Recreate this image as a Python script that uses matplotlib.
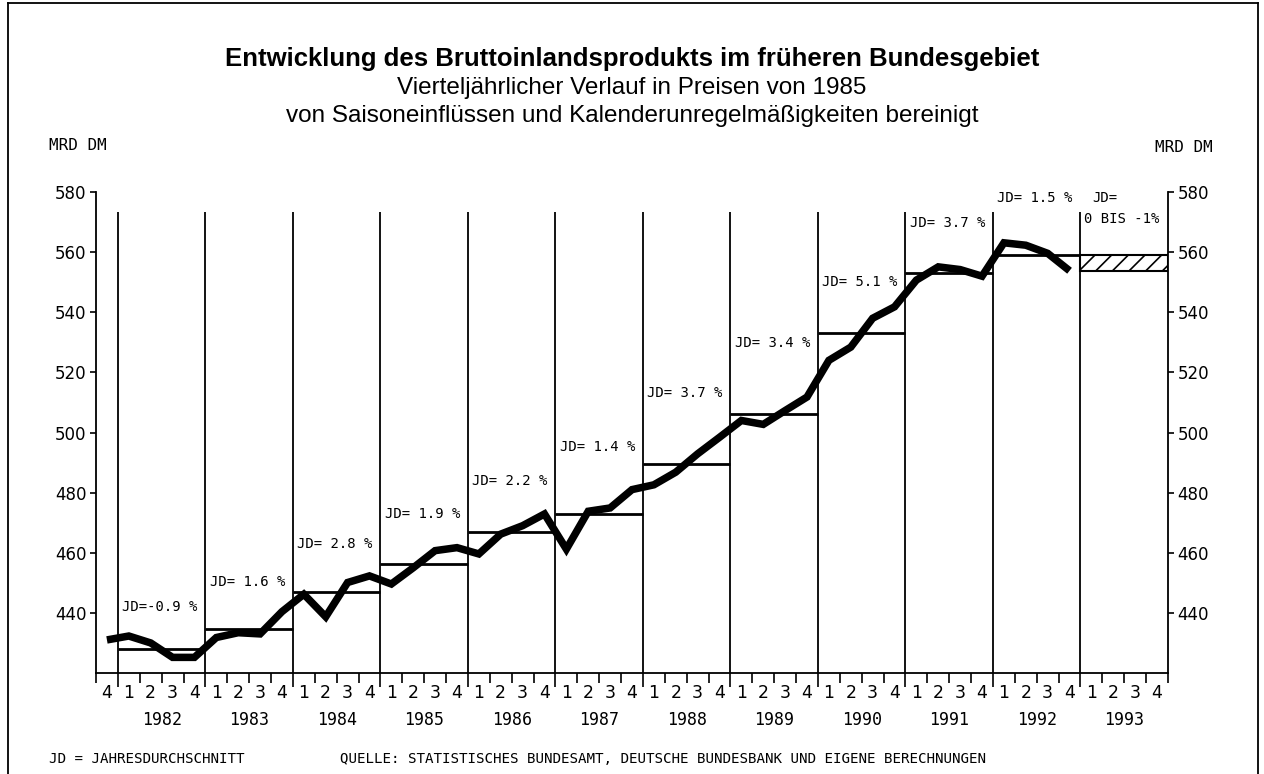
import matplotlib
matplotlib.use("Agg")
import matplotlib.pyplot as plt
from matplotlib.patches import Rectangle
from matplotlib.lines import Line2D

# ---------------- data ----------------
years = [1982, 1983, 1984, 1985, 1986, 1987, 1988, 1989, 1990, 1991, 1992, 1993]
quarter_labels = ["4"] + ["1", "2", "3", "4"] * 12   # 1981 Q4 ... 1993 Q4

# quarterly GDP, bn DM (prices of 1985), 1981 Q4 ... 1992 Q4
gdp = [431.0,
       432.3, 430.0, 425.2, 425.2,
       431.8, 433.4, 433.0, 440.4,
       446.2, 438.7, 450.1, 452.3,
       449.6, 455.0, 460.7, 461.7,
       459.6, 466.2, 469.0, 472.9,
       461.2, 473.8, 474.9, 481.0,
       482.6, 486.8, 492.9, 498.4,
       504.0, 502.7, 507.3, 511.8,
       524.0, 528.4, 538.0, 541.8,
       550.7, 555.1, 554.2, 552.0,
       563.1, 562.3, 559.6, 553.8]

# annual averages 1982 ... 1992
annual_avg = [428.1, 434.8, 447.0, 456.4, 466.8, 472.9,
              489.6, 506.2, 533.1, 552.9, 559.2]
forecast_1993 = (553.6, 559.2)

jd_texts = ["JD=-0.9 %", "JD= 1.6 %", "JD= 2.8 %", "JD= 1.9 %", "JD= 2.2 %",
            "JD= 1.4 %", "JD= 3.7 %", "JD= 3.4 %", "JD= 5.1 %", "JD= 3.7 %",
            "JD= 1.5 %"]
jd_y = [441.8, 450.3, 462.9, 473.0, 484.0, 495.1, 513.1, 529.8, 550.1,
        569.8, 577.9]
jd_1993 = ["JD=", "0 BIS -1%"]
jd_1993_y = [577.9, 570.9]

yticks = [440, 460, 480, 500, 520, 540, 560, 580]

# ---------------- figure ----------------
W, H = 1264, 774
fig = plt.figure(figsize=(W / 100, H / 100), dpi=100)
fig.patch.set_facecolor("white")
ax = fig.add_axes([96 / W, (H - 673) / H, (1168 - 96) / W, (673 - 192) / H])

nq = len(quarter_labels)
ax.set_xlim(0, nq)
ax.set_ylim(420, 580)

mono = "DejaVu Sans Mono"

# quarterly line (points at the middle of each quarter)
xs = [i + 0.5 for i in range(len(gdp))]
ax.plot(xs, gdp, color="black", lw=5.4, solid_joinstyle="miter",
        solid_capstyle="butt", zorder=5)

# year separators
starts = [1 + 4 * k for k in range(len(years))]
ax.vlines(starts, 420, 573.3, color="black", lw=1.3, zorder=2)

# annual averages
for k, v in enumerate(annual_avg):
    ax.hlines(v, starts[k], starts[k] + 4, color="black", lw=2.0, zorder=3)

# 1993 forecast band (hatched)
plt.rcParams["hatch.linewidth"] = 1.2
ax.add_patch(Rectangle((starts[-1], forecast_1993[0]), 4,
                       forecast_1993[1] - forecast_1993[0],
                       facecolor="white", edgecolor="black", hatch="//",
                       lw=1.5, zorder=3))

# JD labels
for k, (t, y) in enumerate(zip(jd_texts, jd_y)):
    ax.text(starts[k] + 0.2, y, t, ha="left", va="center",
            family=mono, fontsize=10, zorder=6)
ax.text(starts[-1] + 0.55, jd_1993_y[0], jd_1993[0], ha="left", va="center",
        family=mono, fontsize=10)
ax.text(starts[-1] + 0.15, jd_1993_y[1], jd_1993[1], ha="left", va="center",
        family=mono, fontsize=10)

# spines
for s in ["left", "right", "bottom"]:
    ax.spines[s].set_linewidth(1.3)
ax.spines["top"].set_visible(False)

# y ticks on both sides
ax.set_yticks(yticks)
ax.set_yticklabels([str(v) for v in yticks])
ax.tick_params(axis="y", left=True, right=True, labelleft=True,
               labelright=True, direction="out", length=4, width=1.2,
               pad=3, labelsize=12)

# x ticks: quarter boundaries (long at year starts)
ax.set_xticks(starts)
ax.set_xticklabels([])
ax.set_xticks([i for i in range(nq + 1) if i not in starts], minor=True)
ax.tick_params(axis="x", which="major", direction="out", length=10, width=1.2)
ax.tick_params(axis="x", which="minor", direction="out", length=7, width=1.2)

# quarter labels and year labels
for i, q in enumerate(quarter_labels):
    ax.annotate(q, xy=(i + 0.5, 0), xycoords=("data", "axes fraction"),
                xytext=(0, -20), textcoords="offset pixels",
                ha="center", va="center", fontsize=12.5, family="DejaVu Sans")
for k, yr in enumerate(years):
    ax.annotate(str(yr), xy=(starts[k] + 2, 0),
                xycoords=("data", "axes fraction"),
                xytext=(0, -47), textcoords="offset pixels",
                ha="center", va="center", fontsize=12, family=mono)

# titles
title_fam = ["Liberation Sans", "DejaVu Sans"]
fig.text(0.5, 1 - 59 / H, "Entwicklung des Bruttoinlandsprodukts im früheren Bundesgebiet",
         ha="center", va="center", fontsize=18.5, fontweight="bold", family=title_fam)
fig.text(0.5, 1 - 88 / H, "Vierteljährlicher Verlauf in Preisen von 1985",
         ha="center", va="center", fontsize=17.5, family=title_fam)
fig.text(0.5, 1 - 116 / H, "von Saisoneinflüssen und Kalenderunregelmäßigkeiten bereinigt",
         ha="center", va="center", fontsize=17.5, family=title_fam)

# unit labels
fig.text(49 / W, 1 - 146 / H, "MRD DM", ha="left", va="center", family=mono, fontsize=11.5)
fig.text(1155 / W, 1 - 147 / H, "MRD DM", ha="left", va="center", family=mono, fontsize=11.5)

# footnotes
fig.text(49 / W, 1 - 759 / H, "JD = JAHRESDURCHSCHNITT", ha="left", va="center",
         family=mono, fontsize=10.2)
fig.text(340 / W, 1 - 759 / H,
         "QUELLE: STATISTISCHES BUNDESAMT, DEUTSCHE BUNDESBANK UND EIGENE BERECHNUNGEN",
         ha="left", va="center", family=mono, fontsize=10.2)

# outer frame
for (x0, y0, x1, y1) in [(8, 3, 1258, 3), (8, 3, 8, 774), (1258, 3, 1258, 774)]:
    fig.add_artist(Line2D([x0 / W, x1 / W], [1 - y0 / H, 1 - y1 / H],
                          transform=fig.transFigure, color="black", lw=1.3))

fig.savefig("out.png", dpi=100, facecolor="white")
